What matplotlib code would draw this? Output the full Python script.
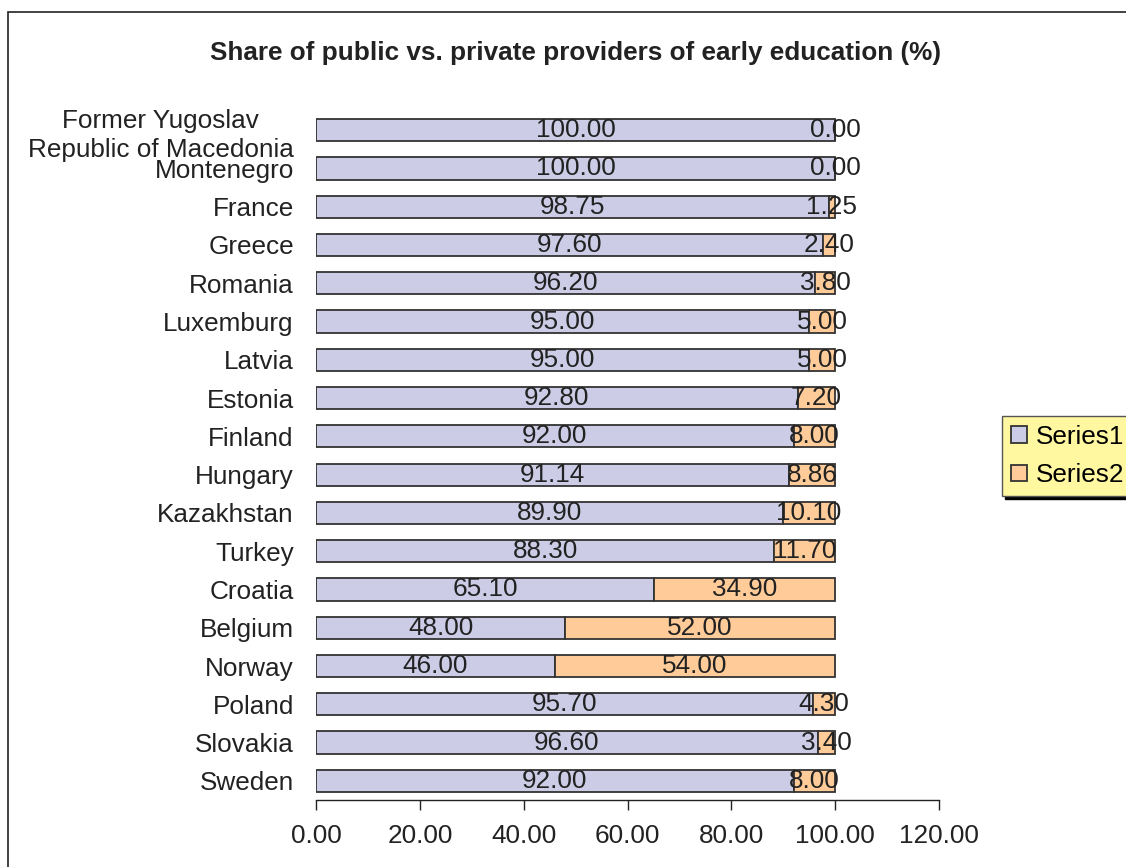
import matplotlib
matplotlib.use("Agg")
import matplotlib.pyplot as plt
from matplotlib.patches import Rectangle

countries = ["Former Yugoslav\nRepublic of Macedonia", "Montenegro", "France", "Greece",
             "Romania", "Luxemburg", "Latvia", "Estonia", "Finland", "Hungary",
             "Kazakhstan", "Turkey", "Croatia", "Belgium", "Norway", "Poland",
             "Slovakia", "Sweden"]
series1 = [100.00, 100.00, 98.75, 97.60, 96.20, 95.00, 95.00, 92.80, 92.00, 91.14,
           89.90, 88.30, 65.10, 48.00, 46.00, 95.70, 96.60, 92.00]
series2 = [0.00, 0.00, 1.25, 2.40, 3.80, 5.00, 5.00, 7.20, 8.00, 8.86,
           10.10, 11.70, 34.90, 52.00, 54.00, 4.30, 3.40, 8.00]
xticks = [0, 20, 40, 60, 80, 100, 120]

plt.rcParams['font.family'] = ['Liberation Sans', 'DejaVu Sans']
W, H = 1126, 867
fig = plt.figure(figsize=(W/100, H/100), dpi=100)
fig.patch.set_facecolor('white')
fig.patches.append(Rectangle((8/W, -0.1), 1.2, 1 - 12/H + 0.1, transform=fig.transFigure,
                             fill=False, edgecolor='#222222', linewidth=1.2))

ax = fig.add_axes([316/W, 1 - 800/H, (939-316)/W, (800-111)/H])
y = list(range(len(countries)))
ec = '#333333'
fs = 18.8
b1 = ax.barh(y, series1, height=0.58, color='#CCCCE6', edgecolor=ec, linewidth=1.3, label='Series1')
b2 = ax.barh(y, series2, left=series1, height=0.58, color='#FFCC99', edgecolor=ec, linewidth=1.3, label='Series2')
ax.bar_label(b1, labels=[f"{v:.2f}" for v in series1], label_type='center', fontsize=fs, color='#222222')
ax.bar_label(b2, labels=[f"{v:.2f}" for v in series2], label_type='center', fontsize=fs, color='#222222')

ax.set_ylim(len(countries) - 0.5, -0.5)
ax.set_xlim(0, 120)
ax.set_yticks(y)
ax.set_yticklabels(countries, fontsize=fs, color='#222222', multialignment='center', linespacing=1.3)
ax.tick_params(axis='y', length=0, pad=16)
ax.set_xticks(xticks)
ax.set_xticklabels([f"{v:.2f}" for v in xticks], fontsize=fs, color='#222222')
ax.tick_params(axis='x', length=7, width=1, color='#222222', pad=10)
for s in ['top', 'right', 'left']:
    ax.spines[s].set_visible(False)
ax.spines['bottom'].set_color('#222222')
ax.spines['bottom'].set_linewidth(1)

fig.text(576/W, 1 - 53/H, "Share of public vs. private providers of early education (%)",
         ha='center', va='center', fontsize=18.8, fontweight='bold', color='#222222')

leg = fig.legend(handles=[b1, b2], labels=['Series1', 'Series2'], loc='center left',
                 bbox_to_anchor=(1002/W, 1 - 456/H), fontsize=fs, frameon=True,
                 facecolor='#FFF8A0', edgecolor='#555555', shadow={'color': 'black', 'alpha': 1},
                 fancybox=False, handlelength=0.6, handleheight=0.6, handletextpad=0.35,
                 borderpad=0.35, labelspacing=0.55, borderaxespad=0)
leg.get_frame().set_alpha(1)
fig.savefig("out.png", dpi=100)
